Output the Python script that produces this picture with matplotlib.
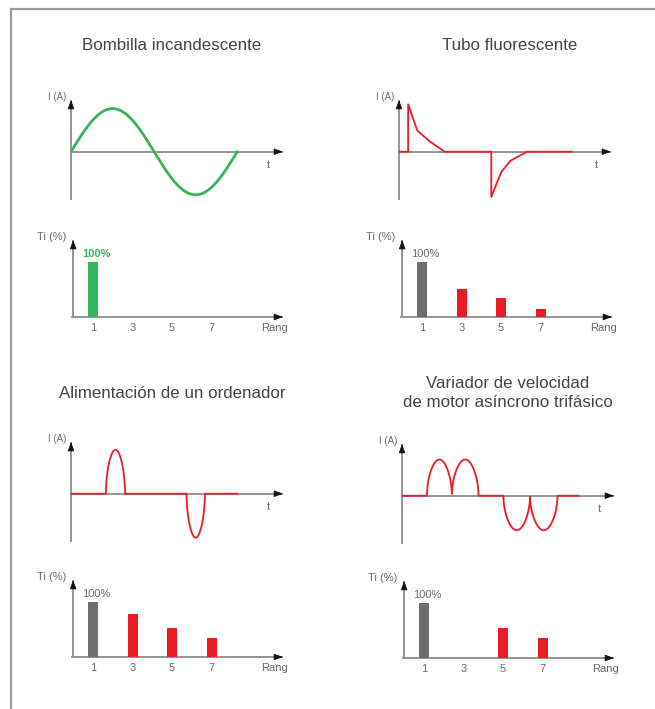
import numpy as np
import matplotlib
matplotlib.use('Agg')
from matplotlib import pyplot as plt
from matplotlib.lines import Line2D

plt.rcParams['font.family'] = ['Liberation Sans', 'DejaVu Sans']

# ---- data ----
titles = ['Bombilla incandescente', 'Tubo fluorescente',
          'Alimentación de un ordenador',
          'Variador de velocidad\nde motor asíncrono trifásico']

# bulb: plain sine, one period (ms)
bulb_period = 20.0
bulb_amp = 1.0

# fluorescent tube: polyline (ms, relative current)
fluo_t = [0, 1.1, 1.1, 2.2, 3.7, 5.5, 11.1, 11.1, 12.3, 13.4, 15.4, 20.8]
fluo_i = [0, 0, 1.1, 0.49, 0.24, 0, 0, -1.05, -0.47, -0.21, 0, 0]

# computer supply: (start ms, end ms, peak)
pc_pulses = [(4.2, 6.5, 1.02), (13.9, 16.1, -1.02)]
pc_end = 20.0

# three-phase drive: (start ms, end ms, peak)
vfd_pulses = [(3.0, 6.0, 0.84), (6.0, 9.2, 0.84),
              (12.2, 15.4, -0.80), (15.4, 18.7, -0.80)]
vfd_end = 21.2

# harmonic spectra (%)
ranks = [1, 3, 5, 7]
bulb_h = [100, 0, 0, 0]
fluo_h = [100, 51, 35, 15]
pc_h = [100, 78, 52, 35]
vfd_h = [100, 0, 54, 37]

GREEN = '#36b45a'
RED = '#ec1c24'
GREY_BAR = '#6e6e6e'
AXIS = '#8c8c8c'
TXT = '#444444'
LBL = '#6a6a6a'

W, H = 655, 709
fig = plt.figure(figsize=(W / 100, H / 100), dpi=100)


def add_ax(x0, top, w, h):
    ax = fig.add_axes([x0 / W, 1 - (top + h) / H, w / W, h / H])
    ax.axis('off')
    return ax


def draw_arrows(ax, x0, x1, y0, y1):
    kw = dict(color=AXIS, lw=1.3, clip_on=False, zorder=1,
              solid_capstyle='butt')
    ax.plot([x0, x1], [0, 0], **kw)
    ax.plot([0, 0], [y0, y1], **kw)
    ap = dict(arrowstyle='-|>,head_length=0.55,head_width=0.2',
              fc='#111111', ec='#111111', lw=0.6, shrinkA=0, shrinkB=0)
    dx = (x1 - x0) * 0.03
    dy = (y1 - y0) * 0.07
    ax.annotate('', xy=(x1, 0), xytext=(x1 - dx, 0), arrowprops=ap,
                annotation_clip=False)
    ax.annotate('', xy=(0, y1), xytext=(0, y1 - dy), arrowprops=ap,
                annotation_clip=False)


def wave_ax(x0, top):
    ax = add_ax(x0, top, 212, 100)
    ax.set_xlim(0, 25.5)
    ax.set_ylim(-1.12, 1.2)
    draw_arrows(ax, 0, 25.5, -1.12, 1.2)
    ax.text(-0.02, 1.03, 'I (A)', transform=ax.transAxes, ha='right',
            va='center', fontsize=7, color=LBL)
    ax.text(0.93, 0.35, 't', transform=ax.transAxes, ha='center',
            va='center', fontsize=8, color=LBL)
    return ax


def pulse_curve(pulses, end):
    t = np.linspace(0, end, 2000)
    y = np.zeros_like(t)
    for a, b, amp in pulses:
        m = (t >= a) & (t <= b)
        y[m] = amp * np.sin(np.pi * (t[m] - a) / (b - a)) ** 0.5
    return t, y


def bar_ax(x0, top, vals, first_color, label_color, bold):
    ax = add_ax(x0, top, 212, 77)
    ax.set_xlim(-0.11, 10.6)
    ax.set_ylim(0, 140)
    draw_arrows(ax, -0.11, 10.6, 0, 140)
    colors = [first_color] + [RED] * (len(ranks) - 1)
    ax.bar(ranks, vals, width=0.5, color=colors, zorder=2)
    ax.text(ranks[0] + 0.15, vals[0] + 5, '100%', ha='center', va='bottom',
            fontsize=8, color=label_color,
            fontweight='bold' if bold else 'normal')
    for r in ranks:
        ax.text(r, -20, str(r), ha='center', va='center', fontsize=8,
                color=LBL)
    ax.text(10.85, -20, 'Rang', ha='right', va='center', fontsize=8,
            color=LBL)
    ax.text(-0.02, 1.04, 'Ti (%)', transform=ax.transAxes, ha='right',
            va='center', fontsize=8, color=LBL)
    return ax


# frame
fig.add_artist(Line2D([11 / W, 11 / W], [0, 1 - 9 / H], color='#9a9a9a',
                      lw=1.6, transform=fig.transFigure))
fig.add_artist(Line2D([11 / W, 1], [1 - 9 / H, 1 - 9 / H], color='#9a9a9a',
                      lw=1.6, transform=fig.transFigure))

# titles
fig.text(172 / W, 1 - 45 / H, titles[0], ha='center', va='center',
         fontsize=12.2, color=TXT)
fig.text(510 / W, 1 - 45 / H, titles[1], ha='center', va='center',
         fontsize=12.2, color=TXT)
fig.text(172 / W, 1 - 393 / H, titles[2], ha='center', va='center',
         fontsize=12.2, color=TXT)
fig.text(508 / W, 1 - 393 / H, titles[3], ha='center', va='center',
         fontsize=12.2, color=TXT, linespacing=1.4)

# waveforms
ax1 = wave_ax(71, 100)
t = np.linspace(0, bulb_period, 400)
ax1.plot(t, bulb_amp * np.sin(2 * np.pi * t / bulb_period), color=GREEN,
         lw=2.0, zorder=3)

ax2 = wave_ax(399, 100)
ax2.plot(fluo_t, fluo_i, color=RED, lw=1.3, zorder=3)

ax5 = wave_ax(71, 442)
t, y = pulse_curve(pc_pulses, pc_end)
ax5.plot(t, y, color=RED, lw=1.3, zorder=3)

ax6 = wave_ax(402, 444)
t, y = pulse_curve(vfd_pulses, vfd_end)
ax6.plot(t, y, color=RED, lw=1.3, zorder=3)

# spectra
bar_ax(71, 240, bulb_h, GREEN, GREEN, True)
bar_ax(400, 240, fluo_h, GREY_BAR, LBL, False)
bar_ax(71, 580, pc_h, GREY_BAR, LBL, False)
bar_ax(402, 581, vfd_h, GREY_BAR, LBL, False)

fig.savefig('out.png', dpi=100)
